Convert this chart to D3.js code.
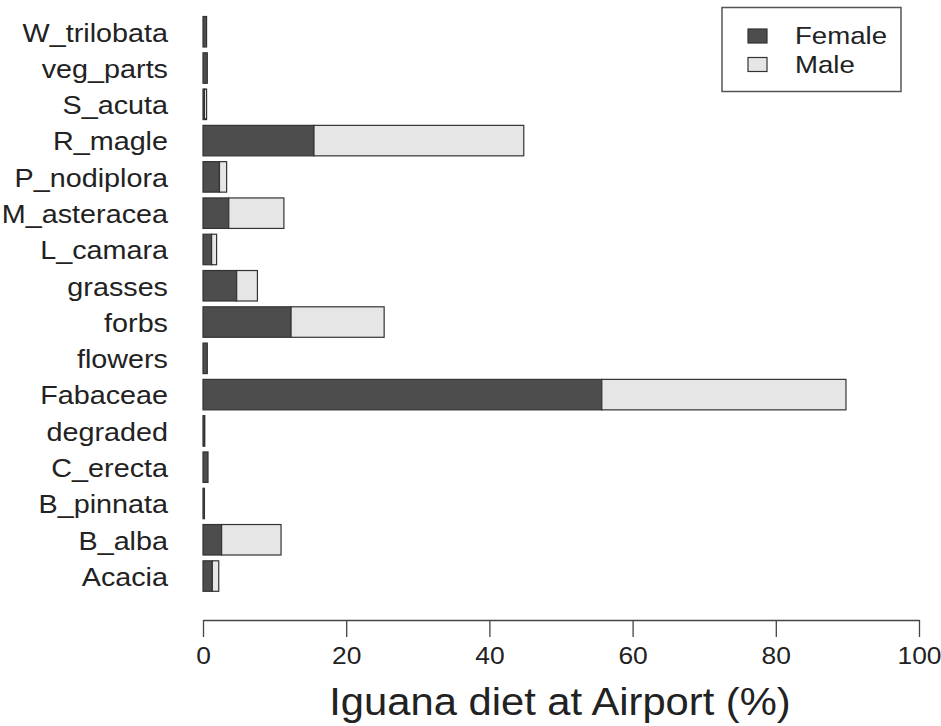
<!DOCTYPE html>
<html>
<head>
<meta charset="utf-8">
<script src="https://cdn.jsdelivr.net/npm/d3@7"></script>
<style>
  html, body { margin: 0; padding: 0; background: #fff; }
  svg { display: block; font-family: "Liberation Sans", Arial, sans-serif; }
</style>
</head>
<body>
<svg id="chart" width="941" height="726"></svg>
<script>
// bottom-to-top, same order as the barplot
const categories = ['Acacia', 'B_alba', 'B_pinnata', 'C_erecta', 'degraded', 'Fabaceae', 'flowers', 'forbs',
    'grasses', 'L_camara', 'M_asteracea', 'P_nodiplora', 'R_magle', 'S_acuta', 'veg_parts', 'W_trilobata'];
const female = [1.3, 2.6, 0.2, 0.7, 0.1, 55.7, 0.6, 12.3, 4.7, 1.2, 3.6, 2.3, 15.5, 0.2, 0.6, 0.5];
const male   = [0.9, 8.3, 0.0, 0.0, 0.15, 34.1, 0.0, 13.0, 2.9, 0.7, 7.7, 1.0, 29.3, 0.3, 0.0, 0.0];
const xTicks = [0, 20, 40, 60, 80, 100];
const series = ['Female', 'Male'];
const colors = ['#4d4d4d', '#e6e6e6'];

const svg = d3.select('#chart');
const stretch = 'scale(1.15,1)';

const x = d3.scaleLinear().domain([0, 100]).range([203, 919]);
const y = d3.scaleBand()
    .domain(categories.slice().reverse())
    .range([13.6, 594.2])
    .paddingInner(0.16).paddingOuter(0.08);

const rows = categories.map((c, i) => ({cat: c, vals: [female[i], male[i]]}));

// stacked bars
const bars = svg.append('g').attr('stroke', '#333').attr('stroke-width', 1.2);
rows.forEach(r => {
    let acc = 0;
    r.vals.forEach((v, k) => {
        if (v > 0) {
            bars.append('rect')
                .attr('x', x(acc)).attr('y', y(r.cat))
                .attr('width', Math.max(x(acc + v) - x(acc), 0.8))
                .attr('height', y.bandwidth())
                .attr('fill', colors[k]);
        }
        acc += v;
    });
});

// category labels
svg.append('g').selectAll('text').data(categories).join('text')
    .attr('transform', d => `translate(168,${y(d) + y.bandwidth() / 2 + 1}) ${stretch}`)
    .attr('text-anchor', 'end')
    .attr('dy', '0.35em')
    .attr('font-size', 25)
    .attr('fill', '#222')
    .text(d => d);

// x axis
const ax = svg.append('g')
    .attr('transform', 'translate(0,620)')
    .call(d3.axisBottom(x).tickValues(xTicks).tickSize(17).tickSizeOuter(0).tickPadding(10));
ax.attr('font-family', null).attr('font-size', null);
ax.select('.domain').attr('stroke', '#444').attr('stroke-width', 1.3);
ax.selectAll('.tick line').attr('stroke', '#444').attr('stroke-width', 1.3);
ax.selectAll('.tick text')
    .attr('font-size', 24).attr('fill', '#222')
    .attr('transform', 'scale(1.1,1)');

svg.append('text')
    .attr('transform', 'translate(560,701) scale(1.07,1)')
    .attr('text-anchor', 'middle').attr('dy', '0.35em')
    .attr('font-size', 39).attr('fill', '#222')
    .text('Iguana diet at Airport (%)');

// legend
const lg = svg.append('g');
lg.append('rect').attr('x', 722).attr('y', 7.5).attr('width', 179).attr('height', 84)
    .attr('fill', '#fff').attr('stroke', '#555').attr('stroke-width', 1.5);
series.forEach((s, i) => {
    const cy = 36 + i * 28.5;
    lg.append('rect').attr('x', 748).attr('y', cy - 7).attr('width', 19).attr('height', 14)
        .attr('fill', colors[i]).attr('stroke', '#333').attr('stroke-width', 1.2);
    lg.append('text')
        .attr('transform', `translate(795,${cy}) ${stretch}`)
        .attr('dy', '0.35em').attr('font-size', 24).attr('fill', '#222')
        .text(s);
});
</script>
</body>
</html>
